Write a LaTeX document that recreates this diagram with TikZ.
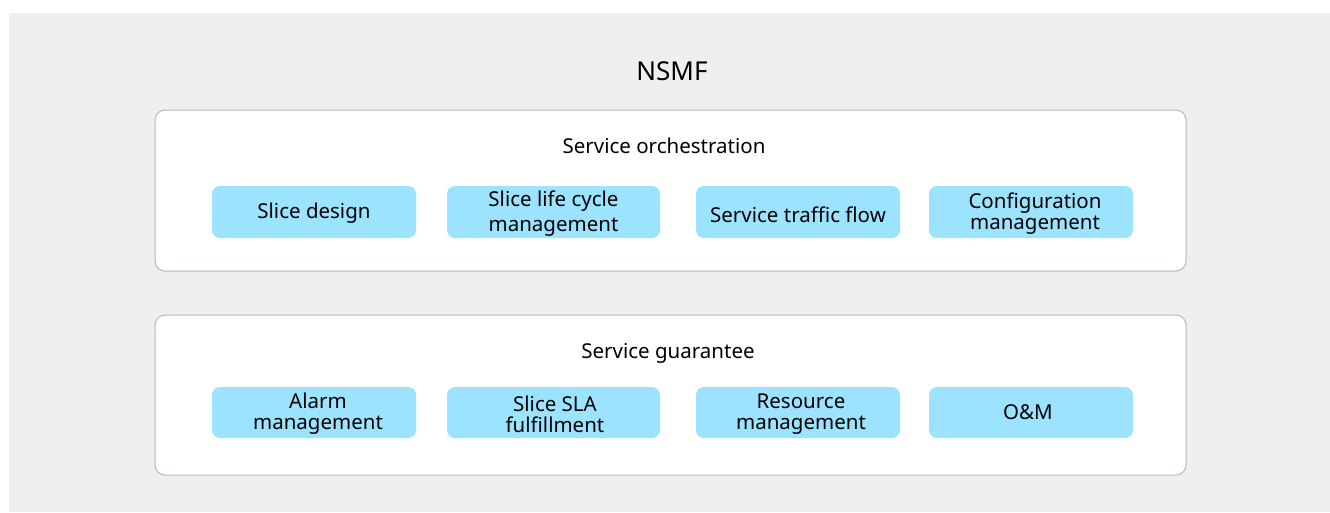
\documentclass[tikz,border=0pt]{standalone}
\usepackage{fontspec}
\setmainfont{Noto Sans}
\definecolor{bggray}{HTML}{EFEFEF}
\definecolor{frame}{HTML}{A9BCC8}
\definecolor{cyanbox}{HTML}{9CE3FF}
\begin{document}
\begin{tikzpicture}[x=1pt,y=-1pt,
  panel/.style={draw=frame,line width=1pt,fill=white,rounded corners=10pt},
  func/.style={fill=cyanbox,rounded corners=8pt,align=center,inner sep=0pt,
    font=\fontsize{20.5}{21}\selectfont,text=black},
  ttl/.style={font=\fontsize{20.5}{24}\selectfont,text=black,inner sep=0pt},
  big/.style={font=\fontsize{26}{30}\selectfont,text=black,inner sep=0pt}]
\useasboundingbox (0,0) rectangle (1330,512);
\fill[bggray] (9,13) rectangle (1330,512);
\node[big] (nsmf) at (672,71) {NSMF};
\draw[panel] (155,110) rectangle (1186,271);
\node[ttl] (orch) at (664,146) {Service orchestration};
\draw[panel] (155,315) rectangle (1186,475);
\node[ttl] (guar) at (668,353) {Service guarantee};
% top row
\path[func] (212,186) rectangle (416,238);
\path[func] (447,186) rectangle (660,238);
\path[func] (696,186) rectangle (900,238);
\path[func] (929,186) rectangle (1133,238);
\node[func] (sd) at (314,213) {Slice design};
\node[func,font=\fontsize{20.5}{25}\selectfont] (slc) at (553.5,213.5) {Slice life cycle\\management};
\node[func] (stf) at (798,215) {Service traffic flow};
\node[func] (cm) at (1035,213.5) {Configuration\\management};
% bottom row
\path[func] (212,387) rectangle (416,438);
\path[func] (447,387) rectangle (660,438);
\path[func] (696,387) rectangle (900,438);
\path[func] (929,387) rectangle (1133,438);
\node[func] (am) at (318,414) {Alarm\\management};
\node[func] (sla) at (555,414) {Slice SLA\\fulfillment};
\node[func] (rm) at (801,414) {Resource\\management};
\node[func] (om) at (1028,412) {O\&M};
\end{tikzpicture}
\end{document}
